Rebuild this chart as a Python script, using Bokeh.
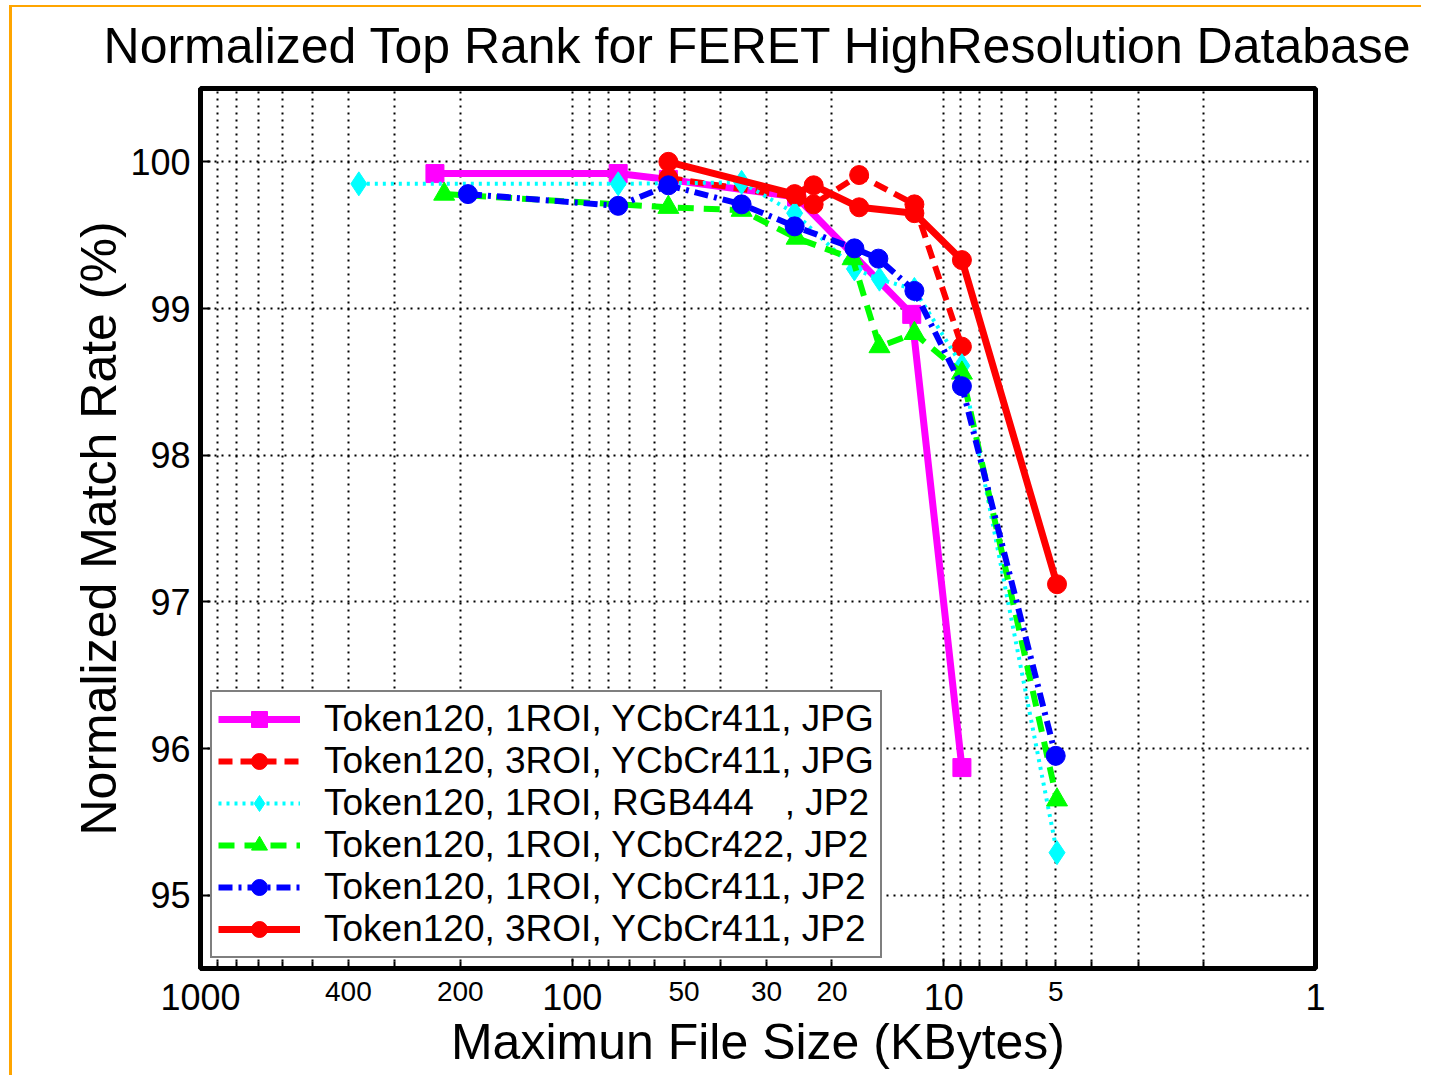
from bokeh.plotting import figure
from bokeh.models import Range1d, FixedTicker, PrintfTickFormatter, LogAxis
from bokeh.embed import file_html
from bokeh.resources import INLINE

# ---- data (file size in KBytes, normalized match rate in %) ----
x_1roi_411_jpg = [234, 75.2, 55.1, 24.9, 12.2, 8.94]
y_1roi_411_jpg = [99.92, 99.92, 99.88, 99.76, 98.96, 95.87]

x_3roi_411_jpg = [55.1, 24.9, 22.4, 16.9, 12.0, 8.94]
y_3roi_411_jpg = [99.89, 99.76, 99.71, 99.91, 99.71, 98.74]

x_1roi_rgb444_jp2 = [375, 75.2, 35.0, 25.2, 17.4, 14.9, 12.0, 8.94, 4.96]
y_1roi_rgb444_jp2 = [99.85, 99.85, 99.86, 99.65, 99.27, 99.20, 99.13, 98.61, 95.29]

x_1roi_422_jp2 = [221, 55.1, 35.0, 24.9, 17.6, 14.9, 12.0, 8.94, 4.96]
y_1roi_422_jp2 = [99.78, 99.69, 99.67, 99.48, 99.34, 98.74, 98.83, 98.56, 95.65]

x_1roi_411_jp2 = [190.7, 75.2, 55.1, 35.0, 25.2, 17.4, 15.0, 12.0, 8.94, 5.0]
y_1roi_411_jp2 = [99.78, 99.70, 99.84, 99.71, 99.56, 99.41, 99.34, 99.12, 98.47, 95.95]

x_3roi_411_jp2 = [55.1, 25.2, 22.4, 16.9, 12.0, 8.94, 4.96]
y_3roi_411_jp2 = [100.0, 99.78, 99.84, 99.69, 99.65, 99.33, 97.12]

labels = [
    "Token120, 1ROI, YCbCr411, JPG",
    "Token120, 3ROI, YCbCr411, JPG",
    "Token120, 1ROI, RGB444\u00a0\u00a0\u00a0, JP2",
    "Token120, 1ROI, YCbCr422, JP2",
    "Token120, 1ROI, YCbCr411, JP2",
    "Token120, 3ROI, YCbCr411, JP2",
]

x_major_ticks = [1000, 100, 10, 1]
x_small_labels = [400, 200, 50, 30, 20, 5]
x_minor_ticks = [m * d for d in (1, 10, 100) for m in range(2, 10)]
y_ticks = [95, 96, 97, 98, 99, 100]

FONT = "Liberation Sans"

p = figure(width=1421, height=1075, x_axis_type="log",
           x_range=Range1d(1000, 1), y_range=Range1d(94.5, 100.5),
           output_backend="svg", toolbar_location=None,
           min_border_left=200, min_border_right=106,
           min_border_top=88, min_border_bottom=107)

p.border_fill_color = None
p.styles = {
    "background": "linear-gradient(#FFA500,#FFA500) 9px 5px / 3px 100% no-repeat, "
                  "linear-gradient(#FFA500,#FFA500) 9px 5px / 100% 2px no-repeat, white"
}

p.title.text = "Normalized Top Rank for FERET HighResolution Database"
p.title.text_font = FONT
p.title.text_font_size = "50px"
p.title.text_font_style = "normal"
p.title.align = "center"
p.title.text_color = "black"
p.title.text_line_height = 0.85
p.title.standoff = 30

p.outline_line_color = "black"
p.outline_line_width = 5
p.outline_line_alpha = 1

# x axis (decade labels)
ax1 = p.xaxis[0]
ax1.ticker = FixedTicker(ticks=x_major_ticks, minor_ticks=x_minor_ticks)
ax1.formatter = PrintfTickFormatter(format="%d")
ax1.major_label_text_font = FONT
ax1.major_label_text_font_size = "36px"
ax1.major_label_text_color = "black"
ax1.major_tick_in = 10
ax1.major_tick_out = 0
ax1.minor_tick_in = 7
ax1.minor_tick_out = 0
ax1.major_tick_line_width = 2
ax1.minor_tick_line_width = 2
ax1.axis_line_width = 5
ax1.major_label_standoff = 15

# x axis (intermediate labels, same row, smaller)
ax2 = LogAxis(ticker=FixedTicker(ticks=x_small_labels),
              formatter=PrintfTickFormatter(format="%d"))
ax2.axis_line_color = None
ax2.major_tick_line_color = None
ax2.minor_tick_line_color = None
ax2.major_tick_in = 0
ax2.major_tick_out = 0
ax2.minor_tick_in = 0
ax2.minor_tick_out = 0
ax2.major_label_text_font = FONT
ax2.major_label_text_font_size = "28px"
ax2.major_label_text_color = "black"
ax2.major_label_standoff = -31
ax2.axis_label = "Maximun File Size (KBytes)"
ax2.axis_label_text_font = FONT
ax2.axis_label_text_font_size = "50px"
ax2.axis_label_text_font_style = "normal"
ax2.axis_label_text_color = "black"
ax2.axis_label_standoff = 10
p.add_layout(ax2, "below")

# y axis
p.yaxis.ticker = FixedTicker(ticks=y_ticks)
p.yaxis.major_label_text_font = FONT
p.yaxis.major_label_text_font_size = "36px"
p.yaxis.major_label_text_color = "black"
p.yaxis.major_tick_in = 10
p.yaxis.major_tick_out = 0
p.yaxis.minor_tick_line_color = None
p.yaxis.major_tick_line_width = 2
p.yaxis.axis_line_width = 5
p.yaxis.major_label_standoff = 10
p.yaxis.axis_label = "Normalized Match Rate (%)"
p.yaxis.axis_label_text_font = FONT
p.yaxis.axis_label_text_font_size = "50px"
p.yaxis.axis_label_text_font_style = "normal"
p.yaxis.axis_label_text_color = "black"
p.yaxis.axis_label_standoff = 0

# grids
for g in (p.xgrid, p.ygrid):
    g.grid_line_color = "black"
    g.grid_line_width = 2
    g.grid_line_dash = "2 5"
    g.grid_line_alpha = 1
p.xgrid.minor_grid_line_color = "black"
p.xgrid.minor_grid_line_width = 2
p.xgrid.minor_grid_line_dash = "2 5"

series = [
    (x_1roi_411_jpg, y_1roi_411_jpg, "#FF00FF", "solid", 7, "square", 18),
    (x_3roi_411_jpg, y_3roi_411_jpg, "#FF0000", "14 8", 6, "circle", 19),
    (x_1roi_rgb444_jp2, y_1roi_rgb444_jp2, "#00FFFF", "3 5", 4, "diamond", 24),
    (x_1roi_422_jp2, y_1roi_422_jp2, "#00FF00", "16 10", 6, "triangle", 21),
    (x_1roi_411_jp2, y_1roi_411_jp2, "#0000FF", "14 6 3 6", 6, "circle", 19),
    (x_3roi_411_jp2, y_3roi_411_jp2, "#FF0000", "solid", 7, "circle", 19),
]

for (xs, ys, c, dash, lw, mk, ms), lab in zip(series, labels):
    p.line(xs, ys, line_color=c, line_width=lw, line_dash=dash, legend_label=lab)
    p.scatter(xs, ys, marker=mk, size=ms, fill_color=c, line_color=c, line_width=1,
              legend_label=lab)

lg = p.legend[0]
lg.location = "bottom_left"
lg.margin = 10
lg.padding = 6
lg.spacing = 0
lg.glyph_width = 82
lg.glyph_height = 40
lg.label_height = 40
lg.label_standoff = 24
lg.label_text_font = FONT
lg.label_text_font_size = "37px"
lg.label_text_color = "black"
lg.border_line_color = "black"
lg.border_line_width = 2
lg.background_fill_alpha = 1

open("out.html", "w").write(file_html(p, INLINE))
